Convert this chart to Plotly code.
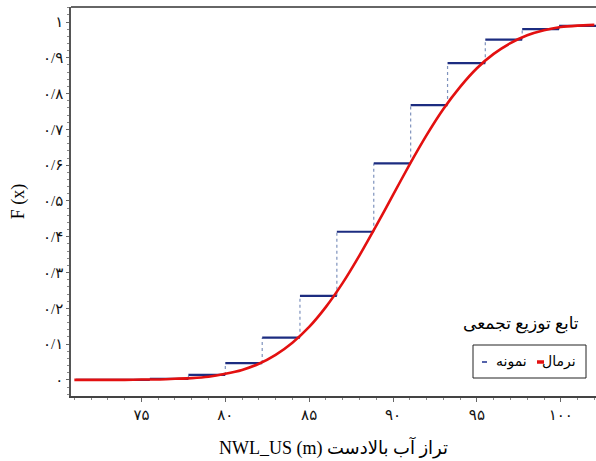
import plotly.graph_objects as go

# ---- data ----
# empirical (sample) cumulative distribution: bin edges and step levels
step_edges = [71.1, 75.5, 77.8, 80.0, 82.2, 84.45, 86.65, 88.85, 91.05, 93.25, 95.5, 97.7, 99.9, 102.1]
step_values = [0.0, 0.003, 0.014, 0.047, 0.118, 0.235, 0.414, 0.605, 0.768, 0.885, 0.951, 0.980, 0.989]

# fitted normal cumulative curve (read points)
curve_x = [71, 72, 73, 74, 75, 76, 77, 78, 79, 80, 81, 82, 83, 84, 85, 86,
           87, 88, 89, 90, 91, 92, 93, 94, 95, 96, 97, 98, 99, 100, 101, 102]
curve_y = [0.000, 0.000, 0.000, 0.000, 0.001, 0.001, 0.003, 0.005, 0.009, 0.017,
           0.028, 0.045, 0.070, 0.104, 0.148, 0.204, 0.271, 0.348, 0.431, 0.517,
           0.603, 0.684, 0.757, 0.819, 0.871, 0.911, 0.941, 0.963, 0.977, 0.986,
           0.990, 0.992]

x_tick_vals = [75, 80, 85, 90, 95, 100]
x_tick_text = ["۷۵", "۸۰", "۸۵", "۹۰", "۹۵", "۱۰۰"]
y_tick_vals = [0, 0.1, 0.2, 0.3, 0.4, 0.5, 0.6, 0.7, 0.8, 0.9, 1.0]
y_tick_text = ["۰", "۰/۱", "۰/۲", "۰/۳", "۰/۴", "۰/۵", "۰/۶", "۰/۷", "۰/۸", "۰/۹", "۱"]

x_title = "NWL_US (m) تراز آب بالادست"
y_title = "F (x)"
legend_title = "تابع توزیع تجمعی"
name_normal = "نرمال"
name_sample = "نمونه"

FONT = "Liberation Serif, DejaVu Serif, DejaVu Sans, serif"

# ---- build step geometry from data ----
hx, hy = [], []
for i, v in enumerate(step_values):
    hx += [step_edges[i], step_edges[i + 1], None]
    hy += [v, v, None]
vx, vy = [], []
for i in range(1, len(step_values)):
    vx += [step_edges[i], step_edges[i], None]
    vy += [step_values[i - 1], step_values[i], None]

fig = go.Figure()
fig.add_trace(go.Scatter(x=vx, y=vy, mode="lines", showlegend=False,
                         line=dict(color="#7f93bd", width=1.2, dash="dot"),
                         hoverinfo="skip"))
fig.add_trace(go.Scatter(x=hx, y=hy, mode="lines", name=name_sample, showlegend=False,
                         line=dict(color="#1c2c80", width=2.2)))
fig.add_trace(go.Scatter(x=curve_x, y=curve_y, mode="lines", name=name_normal, showlegend=False,
                         line=dict(color="#e31010", width=2.6, shape="spline", smoothing=0.6)))

W, H = 596, 461
L, R, T, B = 71, 0, 7, 65
pw, ph = W - L - R, H - T - B


def px(x):
    return (x - L) / pw


def py(y):
    return (H - B - y) / ph


shapes = [
    # top frame line
    dict(type="line", xref="paper", yref="paper", x0=0, x1=1, y0=1, y1=1,
         line=dict(color="#333333", width=1.5)),
    # legend box
    dict(type="rect", xref="paper", yref="paper", x0=px(473), x1=px(586),
         y0=py(378), y1=py(345), line=dict(color="#222222", width=1), fillcolor="white"),
    # red legend key
    dict(type="line", xref="paper", yref="paper", x0=px(537), x1=px(544),
         y0=py(362), y1=py(362), line=dict(color="#e31010", width=3.5)),
    # blue legend key
    dict(type="line", xref="paper", yref="paper", x0=px(482), x1=px(487),
         y0=py(362), y1=py(362), line=dict(color="#2a3c96", width=1.6)),
]

annotations = [
    dict(xref="paper", yref="paper", x=px(521), y=py(324), text=legend_title,
         showarrow=False, xanchor="center", yanchor="middle",
         font=dict(family=FONT, size=17, color="black")),
    dict(xref="paper", yref="paper", x=px(578), y=py(362), text=name_normal,
         showarrow=False, xanchor="right", yanchor="middle",
         font=dict(family=FONT, size=14, color="black")),
    dict(xref="paper", yref="paper", x=px(529), y=py(362), text=name_sample,
         showarrow=False, xanchor="right", yanchor="middle",
         font=dict(family=FONT, size=14, color="black")),
]

fig.update_layout(
    width=W, height=H,
    margin=dict(l=L, r=R, t=T, b=B, autoexpand=False),
    paper_bgcolor="white", plot_bgcolor="white",
    showlegend=False,
    shapes=shapes,
    annotations=annotations,
    font=dict(family=FONT, size=14, color="black"),
)
fig.update_xaxes(
    range=[70.8, 102.1], tickmode="array", tickvals=x_tick_vals, ticktext=x_tick_text,
    showgrid=False, zeroline=False, showline=True, linecolor="#444444", linewidth=1.5,
    ticks="outside", ticklen=4, tickcolor="#666666", automargin=False,
    minor=dict(ticks="outside", ticklen=2, dtick=1, tickcolor="#888888"),
    tickfont=dict(family=FONT, size=15, color="#111111"),
    title=dict(text=x_title, font=dict(family=FONT, size=18), standoff=20),
)
fig.update_yaxes(
    range=[-0.045, 1.042], tickmode="array", tickvals=y_tick_vals, ticktext=y_tick_text,
    showgrid=False, zeroline=False, showline=True, linecolor="#555555", linewidth=1.5,
    ticks="outside", ticklen=3, tickcolor="#666666", automargin=False,
    minor=dict(ticks="outside", ticklen=2, dtick=0.02, tickcolor="#888888"),
    tickfont=dict(family=FONT, size=15, color="#111111"),
    title=dict(text=y_title, font=dict(family=FONT, size=18), standoff=14),
)

fig.write_html("out.html", config={"displayModeBar": False},
               post_script="document.body.style.margin='0';")
